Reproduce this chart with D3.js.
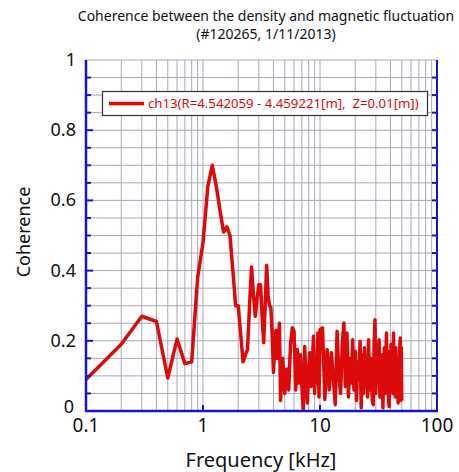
<!DOCTYPE html>
<html>
<head>
    <meta charset='utf-8'>
    <title>Coherence</title>
    <style>
    body {
      margin: 0;
      background: #fff;
    }
    text {
      font-family: 'Noto Sans', sans-serif;
    }
    </style>
    <script src='https://d3js.org/d3.v7.min.js'></script>
</head>
<body>
<div id="container"></div>
<script>
// ******* Data *******
const titleLines = ["Coherence between the density and magnetic fluctuation",
                    "(#120265, 1/11/2013)"];
const legendLabel = "ch13(R=4.542059 - 4.459221[m],  Z=0.01[m])";

const xTicks = [0.1, 1, 10, 100];
const xTickLabels = ["0.1", "1", "10", "100"];
const yTicks = [0, 0.2, 0.4, 0.6, 0.8, 1];
const yTickLabels = ["0", "0.2", "0.4", "0.6", "0.8", "1"];

// frequency [kHz]
const freqKHz = [
  0.1, 0.2, 0.3, 0.4, 0.5, 0.6, 0.7, 0.8, 0.9, 1.0,
  1.1, 1.2, 1.3, 1.4, 1.5, 1.6, 1.7, 1.8, 1.9, 2.0,
  2.1, 2.2, 2.3, 2.4, 2.5, 2.6, 2.7, 2.8, 2.9, 3.0,
  3.1, 3.2, 3.3, 3.4, 3.5, 3.6, 3.7, 3.8, 3.9, 4.0,
  4.1, 4.2, 4.3, 4.4, 4.5,
  4.6, 4.8, 5.0, 5.2, 5.4, 5.6, 5.8, 6.0, 6.2, 6.4,
  6.6, 6.8, 7.0, 7.2, 7.4, 7.6, 7.8, 8.0, 8.2, 8.4,
  8.6, 8.8, 9.0, 9.2, 9.4, 9.6, 9.8, 10.0,
  10.5, 11, 11.5, 12, 12.5, 13, 13.5, 14, 14.5, 15,
  15.5, 16, 16.5, 17, 17.5, 18, 18.5, 19, 19.5, 20,
  20.5, 21, 21.5, 22, 22.5, 23, 23.5, 24, 24.5, 25,
  25.5, 26, 26.5, 27, 27.5, 28, 28.5, 29, 29.5, 30,
  30.5, 31, 31.5, 32, 32.5, 33, 33.5, 34, 34.5, 35,
  35.5, 36, 36.5, 37, 37.5, 38, 38.5, 39, 39.5, 40,
  40.5, 41, 41.5, 42, 42.5, 43, 43.5, 44, 44.5, 45,
  45.5, 46, 46.5, 47, 47.5, 48, 48.5, 49, 49.5, 50
];

const coherence = [
  0.09, 0.19, 0.27, 0.255, 0.094, 0.205, 0.135, 0.14, 0.38, 0.48,
  0.64, 0.70, 0.64, 0.57, 0.51, 0.525, 0.50, 0.40, 0.30, 0.30,
  0.22, 0.14, 0.16, 0.175, 0.30, 0.41, 0.33, 0.27, 0.32, 0.36,
  0.36, 0.27, 0.195, 0.30, 0.415, 0.33, 0.30, 0.295, 0.22, 0.11,
  0.18, 0.23, 0.15, 0.20, 0.25,
  0.03, 0.15, 0.05, 0.12, 0.06, 0.19, 0.237, 0.227, 0.06, 0.175,
  0.08, 0.16, 0.07, 0.004, 0.184, 0.09, 0.023, 0.12, 0.166, 0.07,
  0.14, 0.213, 0.05, 0.13, 0.08, 0.222, 0.04, 0.232,
  0.237, 0.033, 0.175, 0.06, 0.166, 0.09, 0.018, 0.227, 0.10, 0.05,
  0.19, 0.251, 0.07, 0.222, 0.04, 0.15, 0.08, 0.203, 0.06, 0.17,
  0.03, 0.14, 0.09, 0.199, 0.009, 0.16, 0.05, 0.18, 0.07, 0.12,
  0.04, 0.203, 0.06, 0.15, 0.10, 0.03, 0.018, 0.19, 0.26, 0.05,
  0.14, 0.08, 0.17, 0.203, 0.04, 0.13, 0.06, 0.16, 0.009, 0.11,
  0.18, 0.05, 0.15, 0.222, 0.07, 0.12, 0.03, 0.013, 0.17, 0.06,
  0.19, 0.09, 0.14, 0.05, 0.222, 0.08, 0.16, 0.04, 0.18, 0.10,
  0.06, 0.15, 0.023, 0.12, 0.05, 0.17, 0.208, 0.03, 0.18, 0.03
];

// ******* Constants *******
const width = 459,
      height = 472,
      margin = {
          top: 60,
          bottom: 61,
          left: 86,
          right: 22,
      };

const axisColor = "#1414c8",
      gridColor = "#a8a8bc",
      lineColor = "#dc0a0a";

// ******* Scales *******
var x = d3.scaleLog()
    .domain([0.1, 100])
    .range([margin.left, width - margin.right]);
var y = d3.scaleLinear()
    .domain([0, 1])
    .range([height - margin.bottom, margin.top]);

// ******* Create SVG *******
var svg = d3.select("#container").append("svg")
    .attr("width", width)
    .attr("height", height);

// ******* Grid *******
var xGrid = x.ticks().filter(d => d > 0.1 && d < 100);
var yGrid = d3.range(1, 21).map(d => d / 20);

svg.append("g")
    .selectAll("line")
    .data(xGrid)
    .enter()
    .append("line")
    .attr("x1", d => x(d))
    .attr("x2", d => x(d))
    .attr("y1", y(0))
    .attr("y2", y(1))
    .attr("stroke", gridColor)
    .attr("stroke-width", 1);

svg.append("g")
    .selectAll("line")
    .data(yGrid)
    .enter()
    .append("line")
    .attr("x1", x(0.1))
    .attr("x2", x(100))
    .attr("y1", d => y(d))
    .attr("y2", d => y(d))
    .attr("stroke", gridColor)
    .attr("stroke-width", 1);

// ******* Data line *******
var series = freqKHz.map((f, i) => [f, coherence[i]]);

var line = d3.line()
    .x(d => x(d[0]))
    .y(d => y(d[1]));

svg.append("path")
    .datum(series)
    .attr("d", line)
    .attr("fill", "none")
    .attr("stroke", lineColor)
    .attr("stroke-width", 3.5)
    .attr("stroke-linejoin", "round");

// ******* Axes *******
var yMinor = d3.range(1, 20).map(d => d / 20);

// left axis, ticks pointing inward
var left = svg.append("g").attr("stroke", axisColor);
left.selectAll("line.tick")
    .data(yMinor)
    .enter()
    .append("line")
    .attr("x1", x(0.1))
    .attr("x2", d => x(0.1) + (Math.round(d * 20) % 4 === 0 ? 7 : 5))
    .attr("y1", d => y(d))
    .attr("y2", d => y(d))
    .attr("stroke-width", 2);
left.append("line")
    .attr("x1", x(0.1)).attr("x2", x(0.1))
    .attr("y1", y(0) + 1).attr("y2", y(1))
    .attr("stroke-width", 2.5);

// right axis
var right = svg.append("g").attr("stroke", axisColor);
right.selectAll("line.tick")
    .data(yMinor)
    .enter()
    .append("line")
    .attr("x1", x(100))
    .attr("x2", d => x(100) - 5)
    .attr("y1", d => y(d))
    .attr("y2", d => y(d))
    .attr("stroke-width", 2);
right.append("line")
    .attr("x1", x(100)).attr("x2", x(100))
    .attr("y1", y(0) + 1).attr("y2", y(1))
    .attr("stroke-width", 2);

// bottom axis
var bottom = svg.append("g").attr("stroke", axisColor);
bottom.selectAll("line.tick")
    .data([1, 10])
    .enter()
    .append("line")
    .attr("x1", d => x(d))
    .attr("x2", d => x(d))
    .attr("y1", y(0))
    .attr("y2", y(0) - 6)
    .attr("stroke-width", 2);
bottom.append("line")
    .attr("x1", x(0.1) - 1).attr("x2", x(100) + 1)
    .attr("y1", y(0)).attr("y2", y(0))
    .attr("stroke-width", 2.5);

// tick labels
svg.append("g")
    .selectAll("text")
    .data(yTicks)
    .enter()
    .append("text")
    .attr("x", d => x(0.1) - (d === 0 ? 12 : 10))
    .attr("y", d => y(d) + (d === 0 ? 2 : 6))
    .attr("text-anchor", "end")
    .attr("font-size", 18)
    .attr("fill", "#111")
    .text((d, i) => yTickLabels[i]);

svg.append("g")
    .selectAll("text")
    .data(xTicks)
    .enter()
    .append("text")
    .attr("x", d => x(d))
    .attr("y", y(0) + 21)
    .attr("text-anchor", "middle")
    .attr("font-size", 19)
    .attr("fill", "#111")
    .text((d, i) => xTickLabels[i]);

// axis titles
svg.append("text")
    .attr("x", 261)
    .attr("y", 467)
    .attr("text-anchor", "middle")
    .attr("font-size", 20)
    .attr("fill", "#111")
    .text("Frequency [kHz]");

svg.append("text")
    .attr("transform", `translate(30, 232) rotate(-90)`)
    .attr("text-anchor", "middle")
    .attr("font-size", 18)
    .attr("fill", "#111")
    .text("Coherence");

// chart title
svg.append("g")
    .selectAll("text")
    .data(titleLines)
    .enter()
    .append("text")
    .attr("x", 266)
    .attr("y", (d, i) => 21 + i * 18)
    .attr("text-anchor", "middle")
    .attr("font-size", 14)
    .attr("fill", "#111")
    .text(d => d);

// ******* Legend *******
var legend = svg.append("g");
legend.append("rect")
    .attr("x", 102.5)
    .attr("y", 91.5)
    .attr("width", 325)
    .attr("height", 24)
    .attr("fill", "#fff")
    .attr("stroke", "#333")
    .attr("stroke-width", 1.2);
legend.append("line")
    .attr("x1", 109).attr("x2", 144)
    .attr("y1", 103.5).attr("y2", 103.5)
    .attr("stroke", lineColor)
    .attr("stroke-width", 3.5);
legend.append("text")
    .attr("x", 148)
    .attr("y", 108)
    .attr("font-size", 13.2)
    .attr("fill", lineColor)
    .style("white-space", "pre")
    .text(legendLabel);
</script>
</body>
</html>
